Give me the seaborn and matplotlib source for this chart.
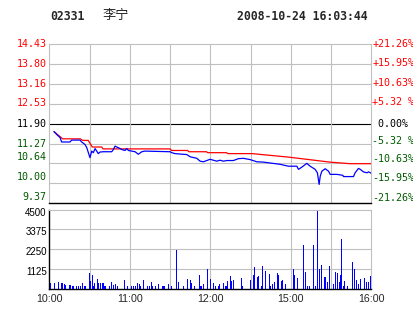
import matplotlib
matplotlib.use("Agg")
import matplotlib.pyplot as plt
import matplotlib.transforms as mtransforms
import seaborn as sns
import pandas as pd

# ---------------- data ----------------
code = "02331"
name = "李宁"
stamp = "2008-10-24 16:03:44"
prev_close = 11.90

price_ticks = [14.43, 13.80, 13.16, 12.53, 11.90, 11.27, 10.64, 10.00, 9.37]
pct_labels = ["+21.26%", "+15.95%", "+10.63%", "+5.32 %", " 0.00%",
              "-5.32 %", "-10.63%", "-15.95%", "-21.26%"]
vol_ticks = [1125, 2250, 3375, 4500]
time_ticks = [0, 60, 120, 180, 240]
time_labels = ["10:00", "11:00", "12:00", "15:00", "16:00"]

# current price (minutes since open, price)
price_t = [3.5, 5.5, 8, 9.2, 15.4, 16.7, 22.9, 24.1, 26.6, 27.9, 29.1, 30.3, 31.6,
           32.8, 34.1, 35.3, 36.5, 37.8, 40.2, 46.5, 47.7, 49, 50.2, 51.4, 54,
           56.4, 57.7, 58.9, 61.4, 63.9, 66.3, 68.9, 71.3, 90, 91.2, 93.7, 102.4,
           104.9, 109.9, 112.3, 114.8, 117.3, 119.8, 122.2, 124.8, 127.2, 129.7,
           132.2, 137.1, 140.9, 144.6, 149.6, 154.6, 159.5, 171.9, 178.1, 184.4,
           185.6, 188.1, 191.8, 194.3, 198, 199.7, 201, 201.8, 203, 205.5, 208,
           209.2, 214.2, 218.7, 219.1, 226.6, 227.8, 230.3, 231.6, 234, 236.6,
           237.8, 240]
price_v = [11.65, 11.56, 11.46, 11.32, 11.32, 11.38, 11.38, 11.32, 11.24, 11.14,
           10.98, 10.82, 11.03, 10.98, 11.11, 11.03, 10.95, 11.00, 11.01, 11.01,
           11.08, 11.19, 11.16, 11.14, 11.08, 11.05, 11.11, 11.05, 11.03, 11.01,
           10.93, 11.01, 11.03, 11.01, 10.98, 10.95, 10.92, 10.85, 10.80, 10.71,
           10.69, 10.73, 10.77, 10.74, 10.71, 10.74, 10.71, 10.73, 10.73, 10.79,
           10.80, 10.76, 10.69, 10.68, 10.61, 10.55, 10.55, 10.45, 10.52, 10.64,
           10.55, 10.45, 10.34, 9.97, 10.23, 10.39, 10.47, 10.39, 10.29, 10.29,
           10.26, 10.22, 10.22, 10.34, 10.48, 10.45, 10.37, 10.34, 10.37, 10.32]

# average price
avg_t = [3.5, 10, 23, 25, 29, 32, 39, 40, 90, 91, 103, 104, 117, 118, 132, 133,
         151, 178, 209, 224, 240]
avg_v = [11.65, 11.42, 11.42, 11.37, 11.37, 11.16, 11.16, 11.10, 11.10, 11.05,
         11.05, 11.01, 11.01, 10.98, 10.98, 10.95, 10.95, 10.84, 10.68, 10.63,
         10.63]

# volume per minute
vol_t = [1, 4, 7, 9, 10, 11, 12, 15, 16, 17, 18, 20, 22, 23, 25, 26, 27, 30, 31,
         32, 33, 34, 36, 37, 38, 40, 41, 42, 45, 46, 48, 49, 51, 56, 58, 61, 63,
         64, 66, 67, 68, 70, 73, 75, 76, 77, 79, 81, 84, 85, 86, 89, 91, 95, 96,
         100, 103, 105, 106, 108, 112, 113, 115, 118, 120, 122, 124, 126, 127,
         130, 131, 132, 133, 135, 136, 137, 143, 144, 150, 152, 153, 155, 156,
         158, 159, 161, 164, 165, 166, 168, 170, 171, 173, 174, 176, 182, 183,
         185, 189, 191, 192, 194, 197, 198, 200, 201, 203, 205, 206, 207, 209,
         212, 213, 215, 216, 217, 218, 219, 220, 222, 226, 227, 229, 230, 232,
         235, 236, 238, 239]
vol_v = [325, 325, 385, 325, 290, 250, 210, 210, 210, 115, 115, 170, 115, 115,
         325, 115, 170, 900, 400, 750, 170, 325, 520, 290, 290, 290, 170, 170,
         170, 385, 210, 230, 170, 460, 170, 115, 170, 115, 325, 230, 115, 460,
         170, 115, 385, 115, 115, 270, 115, 170, 170, 270, 170, 2185, 345, 170,
         520, 460, 290, 170, 750, 170, 230, 1090, 520, 290, 115, 170, 230, 290,
         115, 115, 400, 690, 400, 460, 575, 170, 460, 750, 1210, 635, 690, 170,
         1265, 980, 810, 170, 230, 345, 865, 750, 400, 460, 230, 1090, 750, 575,
         2470, 920, 115, 115, 2470, 115, 4390, 1090, 1320, 635, 635, 345, 1265,
         230, 920, 865, 345, 750, 2820, 115, 400, 170, 1495, 1090, 460, 230, 520,
         575, 345, 345, 690]

# ---------------- style ----------------
sns.set_style("white")
plt.rcParams["font.family"] = ["DejaVu Sans", "Noto Sans CJK SC"]

W, H = 414, 314
fig = plt.figure(figsize=(W / 100, H / 100), dpi=100)
fig.patch.set_facecolor("white")

L, R = 49.3, 371.5
ax = fig.add_axes([L / W, 1 - 203.3 / H, (R - L) / W, (203.3 - 44.2) / H])
axv = fig.add_axes([L / W, 1 - 288.5 / H, (R - L) / W, (288.5 - 209.5) / H])

GRID = "#C0C0C0"
RED = "#FF0000"
GREEN = "#005A00"
BLUE = "#0000FF"
lw = 0.8

# ---- price panel ----
ax.set_xlim(0, 240)
ax.set_ylim(price_ticks[-1], price_ticks[0])
for p in price_ticks[1:-1]:
    ax.axhline(p, color="black" if p == prev_close else GRID, lw=lw, zorder=1)
for t in range(30, 240, 30):
    ax.axvline(t, color=GRID, lw=lw, zorder=1)

sns.lineplot(x=avg_t, y=avg_v, ax=ax, color=RED, lw=0.9, zorder=3)
sns.lineplot(x=price_t, y=price_v, ax=ax, color=BLUE, lw=0.9, zorder=4)

ax.set_xticks([]); ax.set_yticks([])
ax.set_xlabel(""); ax.set_ylabel("")
for s in ["left", "right", "top"]:
    ax.spines[s].set_color(GRID); ax.spines[s].set_linewidth(lw)
ax.spines["bottom"].set_color("black"); ax.spines["bottom"].set_linewidth(1.0)

mono = "DejaVu Sans Mono"
left_off = [0, 0, 0, 1, 0, 0, 6, 6, 6]
right_off = [0, 1, 1, 2, 0, 3, 4, 5, 5]
for i, (p, lab) in enumerate(zip(price_ticks, pct_labels)):
    col = RED if p > prev_close else ("black" if p == prev_close else GREEN)
    tr = ax.get_yaxis_transform() + mtransforms.ScaledTranslation(0, left_off[i] / 100, fig.dpi_scale_trans)
    ax.text(-0.008, p, f"{p:.2f}", transform=tr, ha="right", va="center",
            fontsize=7.2, family=mono, color=col)
    tr2 = ax.get_yaxis_transform() + mtransforms.ScaledTranslation(0, right_off[i] / 100, fig.dpi_scale_trans)
    ax.text(1.002, p, lab, transform=tr2, ha="left", va="center",
            fontsize=7.2, family=mono, color=col)

# ---- volume panel ----
vol = pd.DataFrame({"t": vol_t, "v": vol_v})
sns.histplot(data=vol, x="t", weights="v", discrete=True, shrink=0.75, ax=axv,
             color=BLUE, alpha=1, edgecolor="none", linewidth=0, zorder=3,
             antialiased=False)
axv.set_xlim(0, 240)
axv.set_ylim(0, 4500)
for v in vol_ticks[:-1]:
    axv.axhline(v, color=GRID, lw=lw, zorder=1)
for t in range(30, 240, 30):
    axv.axvline(t, color=GRID, lw=lw, zorder=1)
axv.set_xlabel(""); axv.set_ylabel("")
axv.set_yticks([])
axv.set_xticks(time_ticks)
axv.set_xticklabels(time_labels, fontsize=7.7, family="Liberation Sans")
axv.tick_params(axis="x", length=0, pad=4)
for s in ["right", "top"]:
    axv.spines[s].set_color(GRID); axv.spines[s].set_linewidth(lw)
for s in ["left", "bottom"]:
    axv.spines[s].set_color("black"); axv.spines[s].set_linewidth(1.0)

for v in vol_ticks:
    tr = axv.get_yaxis_transform() + mtransforms.ScaledTranslation(0, -3 / 100, fig.dpi_scale_trans)
    axv.text(-0.008, v, f"{v}", transform=tr, ha="right", va="center",
             fontsize=7, family="Liberation Sans", color="black")

# ---- header ----
fig.text(50 / W, 1 - 17 / H, code, fontsize=8.3, family=mono, weight="bold", va="center", ha="left")
fig.text(103 / W, 1 - 16 / H, name, fontsize=9.5, family=["Noto Sans CJK SC", "DejaVu Sans"], va="center", ha="left")
fig.text(237 / W, 1 - 17 / H, stamp, fontsize=8.3, family=mono, weight="bold", va="center", ha="left")

fig.savefig("out.png", dpi=100, facecolor="white")
